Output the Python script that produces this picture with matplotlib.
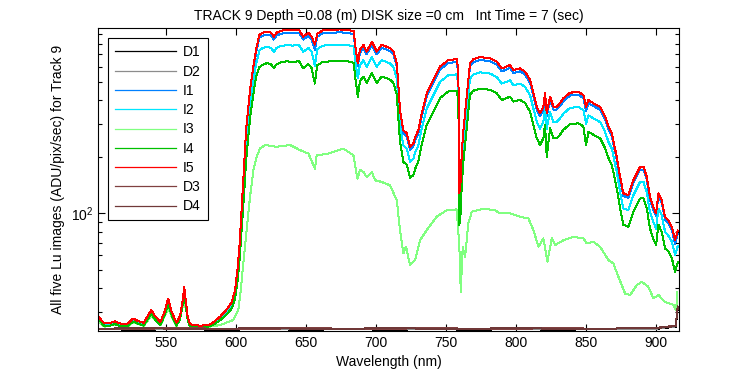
import matplotlib
matplotlib.use("Agg")
import matplotlib.pyplot as plt
from matplotlib.ticker import NullFormatter, FixedLocator, LogLocator

plt.rcParams['font.family'] = ['Liberation Sans', 'DejaVu Sans']
plt.rcParams['mathtext.fontset'] = 'custom'
plt.rcParams['mathtext.rm'] = 'Liberation Sans'
plt.rcParams['mathtext.it'] = 'Liberation Sans:italic'

# ---------------- data ----------------
wavelength = [502, 504, 506, 509, 513.5, 517, 522, 526.5, 530, 534, 537, 539.5, 542, 546,
              549, 551.5, 554, 557.5, 560, 562, 563, 564, 565.5, 567, 569, 575, 580, 582,
              585, 588.5, 592, 595, 597, 599.3, 601, 602.4, 603.4, 604.5, 605.7, 606.9,
              607.6, 610, 612.4, 614.3, 616.7, 619, 622, 625, 627, 629, 632, 636, 640, 645,
              648, 651.7, 654, 656.3, 658, 662, 668, 674, 680, 684, 685.5, 687, 688.5, 691,
              693.3, 697, 700.5, 704, 707.6, 710, 712.4, 714.8, 716, 717.1, 719.5, 722,
              724.3, 726.7, 728, 730.2, 732.6, 736.2, 741, 745.7, 751.7, 757.6, 758.8,
              759.5, 760.5, 761.2, 762.4, 764.3, 766, 767.1, 769.5, 774.3, 781.4, 786.2,
              789.8, 793.3, 795.7, 798.1, 802.9, 806.4, 810, 812.4, 814.8, 817.1, 819.5,
              820.7, 821.9, 824.3, 826.7, 829, 831.4, 833.8, 838.6, 844.5, 848.1, 850,
              851.7, 855.2, 860, 863.6, 866, 868.4, 871.9, 874.3, 876.6, 880.2, 883.8,
              888.6, 891, 893.3, 895.7, 898.1, 900, 901.7, 904, 906.4, 908.8, 911.2, 913.6,
              915.5]

I5 = [28.2, 27.0, 26.0, 26.0, 26.7, 26.0, 25.7, 27.6, 26.8, 26.2, 28.5, 30.6, 28.5, 26.5,
      30.0, 35.3, 30.0, 26.2, 28.5, 35.0, 40.4, 35.0, 28.0, 26.0, 25.5, 25.3, 25.5, 25.8,
      26.8, 28.2, 30.0, 32.0, 33.9, 39.1, 50, 66, 88, 122, 175, 255,
      301, 453, 603, 741, 889, 913, 925, 913, 870, 913, 935, 945, 940, 945,
      870, 913, 870, 790, 900, 940, 945, 950, 945, 930, 741, 628, 741, 786,
      725, 818, 725, 786, 769, 756, 725, 628, 471, 354, 277, 266,
      226, 236, 255, 277, 340, 435, 512, 603, 654, 660, 578,
      128, 150, 208, 277, 385, 512, 628, 660, 677, 668, 640,
      590, 603, 615, 578, 590, 567, 512, 435, 369, 340, 369,
      435, 340, 417, 369, 369, 385, 409, 438, 443, 426, 369,
      400, 385, 369, 327, 289, 266, 200, 157, 128, 125, 150,
      177, 177, 157, 122, 108, 100, 128, 118, 96, 92, 85, 72,
      81]

I1 = [28.0, 26.8, 25.8, 25.8, 26.5, 25.8, 25.5, 27.4, 26.6, 26.0, 28.3, 30.3, 28.3, 26.3,
      29.7, 34.8, 29.7, 26.0, 28.3, 34.5, 39.0, 34.5, 27.8, 25.8, 25.4, 25.2, 25.4, 25.7,
      26.6, 28.0, 29.7, 31.6, 33.4, 38.4, 48.5, 64, 85, 118, 169, 246,
      291, 437, 582, 715, 858, 881, 893, 881, 840, 881, 902, 912, 907, 912,
      840, 881, 840, 740, 869, 907, 912, 917, 912, 897, 715, 606, 715, 758,
      700, 789, 700, 758, 742, 730, 700, 606, 455, 342, 267, 257,
      218, 228, 246, 267, 328, 420, 494, 582, 631, 637, 558,
      124, 145, 201, 267, 372, 494, 606, 637, 653, 645, 618,
      569, 582, 593, 558, 569, 547, 494, 420, 356, 328, 356,
      420, 328, 402, 356, 356, 372, 395, 423, 427, 411, 350,
      386, 372, 356, 316, 279, 257, 193, 152, 124, 121, 145,
      171, 171, 152, 118, 104, 97, 124, 114, 93, 89, 82, 69,
      78]

I2 = [27.8, 26.6, 25.6, 25.6, 26.3, 25.6, 25.3, 27.1, 26.3, 25.8, 28.0, 30.0, 28.0, 26.0,
      29.4, 34.2, 29.4, 25.8, 28.0, 34.0, 38.5, 34.0, 27.5, 25.6, 25.3, 25.1, 25.3, 25.5,
      26.4, 27.6, 29.2, 31.0, 32.6, 37.0, 46, 60, 79, 108, 153, 220,
      258, 382, 505, 618, 735, 758, 768, 758, 722, 758, 776, 784, 780, 784,
      722, 758, 722, 610, 747, 780, 784, 789, 784, 772, 615, 521, 615, 652,
      602, 679, 602, 652, 638, 627, 602, 521, 391, 294, 230, 221,
      188, 196, 212, 230, 282, 361, 425, 500, 543, 548, 480,
      106, 125, 173, 230, 320, 425, 521, 548, 562, 554, 531,
      490, 500, 510, 480, 490, 471, 425, 361, 306, 282, 306,
      361, 282, 346, 306, 306, 320, 339, 364, 368, 354, 300,
      332, 320, 306, 271, 240, 221, 166, 130, 106, 104, 125,
      147, 147, 130, 101, 90, 83, 106, 98, 80, 76, 71, 60,
      67]

I4 = [27.2, 26.2, 25.2, 25.2, 25.8, 25.2, 25.0, 26.6, 25.9, 25.3, 27.4, 29.3, 27.4, 25.5,
      28.8, 33.0, 28.8, 25.3, 27.4, 33.0, 37.5, 33.0, 27.0, 25.2, 25.0, 24.9, 25.0, 25.2,
      25.9, 27.0, 28.4, 30.0, 31.3, 35, 43, 55, 70, 92, 125, 175,
      205, 320, 430, 533, 600, 615, 629, 621, 592, 621, 636, 643, 639, 643,
      592, 621, 592, 490, 612, 639, 643, 646, 643, 632, 504, 417, 504, 534,
      493, 556, 493, 534, 523, 514, 493, 427, 320, 241, 188, 181,
      154, 160, 173, 188, 231, 296, 348, 410, 445, 449, 393,
      87, 102, 141, 188, 262, 348, 427, 449, 460, 454, 435,
      401, 410, 418, 393, 401, 386, 348, 296, 251, 231, 251,
      296, 200, 284, 251, 251, 262, 278, 298, 301, 290, 230,
      272, 262, 251, 222, 197, 181, 136, 107, 87, 85, 102,
      120, 120, 107, 83, 73, 68, 87, 80, 65, 63, 58, 49,
      55]

wavelength_i3 = [502, 506, 513.5, 522, 526.5, 534, 539.5, 546, 551.5, 557.5, 563, 567, 575,
                 588.6, 598, 601.6, 602.9, 605.2, 607.6, 610, 612.4, 614.8, 617.1, 620.7,
                 629, 638.6, 645.7, 651.7, 656.4, 657.6, 664.8, 676.6, 683.8, 686.7, 688.6,
                 691, 693.3, 697, 699.3, 704, 710, 714.8, 717.1, 719.5, 721.4, 724.3, 727.9,
                 731.4, 736.2, 743.3, 750.5, 757.6, 759.5, 760.5, 761.9, 763.6, 765.9, 768.4,
                 776.6, 785, 788.6, 795.7, 802.9, 808.8, 812.4, 816, 819.5, 822.4, 825.5,
                 827.9, 833.8, 840.9, 848.1, 850.5, 855.2, 860, 866, 869.5, 873.1, 877.9,
                 881.4, 886.2, 889.8, 894.5, 898.1, 901.7, 906.4, 912.4, 914.3, 915.2]

I3 = [26.5, 25.0, 25.6, 24.8, 26.3, 25.2, 28.5, 25.4, 31.0, 25.2, 34.0, 25.0, 24.6,
      25.5, 27.1, 30.6, 36.1, 54.2, 81.5, 122.5, 170, 200, 221, 231,
      226, 231, 217, 208, 173, 204, 207, 221, 204, 153, 171,
      166, 156, 166, 150, 147, 141, 117.7, 81.5, 61.3, 66.5, 53.1, 56.5,
      72, 81.5, 96, 104, 105, 66.5, 38.3, 66.5, 58.8, 88.5, 102,
      106, 104, 100, 100, 96, 94, 81.5, 66.5, 73.7, 55.3, 73.7,
      67.9, 72, 75, 73.7, 69.3, 70.7, 66.5, 56.5, 54.2, 46.0, 37.5,
      36.8, 41.5, 43.3, 40.7, 35.3, 36.8, 33.8, 32.6, 30.6, 38.3]

wavelength_dark = [502, 530, 560, 590, 620, 650, 680, 710, 740, 770, 800, 830, 860, 890,
                   900, 905, 910, 914, 915.5]
D1 = [24.2, 24.1, 24.2, 24.1, 24.2, 24.1, 24.2, 24.1, 24.2, 24.1, 24.2, 24.1, 24.2, 24.2,
      24.3, 24.6, 24.8, 25.0, 31.5]
D2 = [24.3, 24.2, 24.3, 24.2, 24.3, 24.2, 24.3, 24.2, 24.3, 24.2, 24.3, 24.2, 24.3, 24.3,
      24.4, 24.7, 24.9, 25.1, 31.8]
D3 = [24.4, 24.4, 24.5, 24.4, 24.4, 24.5, 24.4, 24.4, 24.5, 24.4, 24.4, 24.5, 24.4, 24.5,
      24.6, 24.9, 25.1, 25.3, 32.0]
D4 = [24.4, 24.5, 24.4, 24.4, 24.5, 24.4, 24.4, 24.5, 24.4, 24.4, 24.5, 24.4, 24.4, 24.5,
      24.6, 24.8, 25.0, 25.2, 31.9]

series = [
    ("D1", wavelength_dark, D1, "#000000"),
    ("D2", wavelength_dark, D2, "#8c8c8c"),
    ("I1", wavelength, I1, "#0080ff"),
    ("I2", wavelength, I2, "#00e6ff"),
    ("I3", wavelength_i3, I3, "#80ff80"),
    ("I4", wavelength, I4, "#00c000"),
    ("I5", wavelength, I5, "#ff0000"),
    ("D3", wavelength_dark, D3, "#804040"),
    ("D4", wavelength_dark, D4, "#703838"),
]

title = "TRACK 9 Depth =0.08 (m) DISK size =0 cm   Int Time = 7 (sec)"
xlabel = "Wavelength (nm)"
ylabel = "All five Lu images (ADU/pix/sec) for Track 9"
xticks = [550, 600, 650, 700, 750, 800, 850, 900]

# ---------------- figure ----------------
fig = plt.figure(figsize=(7.5, 3.75), dpi=100)
ax = fig.add_axes([0.131, 0.1173, 0.774, 0.808])

for name, x, y, c in series:
    ax.plot(x, y, color=c, lw=0.72, label=name, antialiased=False)

ax.set_yscale('log')
ax.set_xlim(501.6, 916.2)
ax.set_ylim(23.7, 967)
ax.xaxis.set_major_locator(FixedLocator(xticks))
ax.yaxis.set_major_locator(FixedLocator([100]))
ax.yaxis.set_major_formatter(plt.FuncFormatter(lambda v, p: r'$10^{2}$'))
ax.yaxis.set_minor_locator(LogLocator(base=10, subs=range(2, 10)))
ax.yaxis.set_minor_formatter(NullFormatter())
ax.tick_params(which='both', direction='in', top=True, right=True, labelsize=10,
               width=0.8, colors='black')
ax.tick_params(which='major', length=5)
ax.tick_params(which='minor', length=3)
for s in ax.spines.values():
    s.set_linewidth(0.8)

ax.set_title(title, fontsize=10, pad=6)
ax.set_xlabel(xlabel, fontsize=10, labelpad=4)
ax.set_ylabel(ylabel, fontsize=10, labelpad=4)

leg = ax.legend(loc='upper left', bbox_to_anchor=(0.0172, 0.966), borderaxespad=0,
                fontsize=10, handlelength=4.4, handletextpad=0.5, labelspacing=0.38,
                borderpad=0.5, fancybox=False, framealpha=1, edgecolor='black')
leg.get_frame().set_linewidth(0.8)
for h in leg.get_lines():
    h.set_linewidth(0.9)

fig.savefig("out.png", dpi=100)
